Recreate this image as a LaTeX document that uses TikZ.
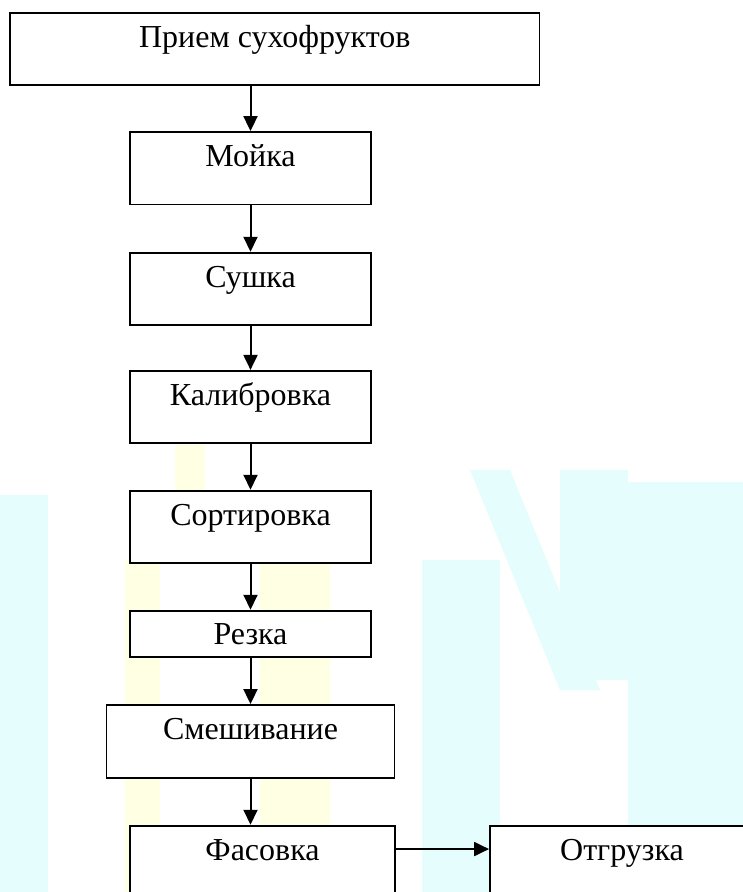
\documentclass[tikz,border=0pt]{standalone}
\usepackage{fontspec}
\setmainfont{Liberation Serif}
\usetikzlibrary{arrows.meta}
\definecolor{wmcyan}{RGB}{230,253,253}
\definecolor{wmyellow}{RGB}{255,255,228}
\tikzset{
  stepbox/.style={draw=black, line width=1.9pt, fill=white, rectangle, inner sep=0pt,
    font=\fontsize{32}{38}\selectfont, align=center, text height=34.5pt, text depth=37.5pt},
  flowarrow/.style={line width=2pt, -{Triangle[length=15pt,width=14pt]}},
}
\begin{document}
\begin{tikzpicture}[x=1pt,y=-1pt]
\clip (0,0) rectangle (743,892);
\fill[white] (0,0) rectangle (743,892);
% faint watermark in the background
\fill[wmcyan] (0,495) rectangle (48,892);
\fill[wmcyan] (628,482) rectangle (743,892);
\fill[wmcyan] (422,560) rectangle (500,892);
\fill[wmcyan] (470,470) -- (510,470) -- (600,690) -- (560,690) -- cycle;
\fill[wmcyan] (560,470) rectangle (628,680);
\fill[wmyellow] (175,445) rectangle (205,560);
\fill[wmyellow] (125,560) rectangle (160,892);
\fill[wmyellow] (260,560) rectangle (330,892);
% process boxes
\node[stepbox, minimum width=529.5pt, minimum height=72.3pt] (b1) at (274.75,48.85) {Прием сухофруктов};
\node[stepbox, minimum width=240.5pt, minimum height=72.5pt] (b2) at (250.5,168.25) {Мойка};
\node[stepbox, minimum width=240.5pt, minimum height=72.3pt] (b3) at (250.5,288.85) {Сушка};
\node[stepbox, minimum width=240.5pt, minimum height=71.7pt] (b4) at (250.5,406.85) {Калибровка};
\node[stepbox, minimum width=240.5pt, minimum height=72pt] (b5) at (250.5,526.7) {Сортировка};
\node[stepbox, minimum width=240.5pt, minimum height=46pt, text height=33.6pt, text depth=12.4pt] (b6) at (250.5,633.7) {Резка};
\node[stepbox, minimum width=288pt, minimum height=72.7pt] (b7) at (250.5,741.35) {Смешивание};
\node[stepbox, minimum width=265pt, minimum height=72pt] (b8) at (262.5,861.7) {Фасовка};
\node[stepbox, minimum width=264pt, minimum height=72pt] (b9) at (622,861.7) {Отгрузка};
% connectors
\draw[flowarrow] (b1.south -| b2.north) -- (b2.north);
\draw[flowarrow] (b2.south) -- (b3.north);
\draw[flowarrow] (b3.south) -- (b4.north);
\draw[flowarrow] (b4.south) -- (b5.north);
\draw[flowarrow] (b5.south) -- (b6.north);
\draw[flowarrow] (b6.south) -- (b7.north);
\draw[flowarrow] (b7.south) -- (b7.south |- b8.north);
\draw[flowarrow] ([yshift=-24.3pt]b8.north east) -- ([yshift=-24.3pt]b9.north west);
\end{tikzpicture}
\end{document}
